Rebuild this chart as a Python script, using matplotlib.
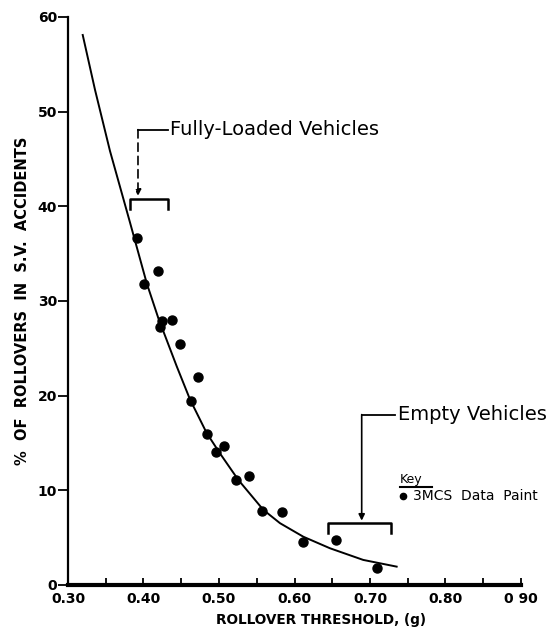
import matplotlib
matplotlib.use("Agg")
import matplotlib.pyplot as plt

# BMCS data points (rollover threshold g, % rollovers in single-vehicle accidents)
pts_x = [0.392, 0.401, 0.419, 0.422, 0.425, 0.438, 0.448, 0.4625, 0.472, 0.4845,
         0.496, 0.507, 0.523, 0.540, 0.557, 0.584, 0.611, 0.655, 0.709]
pts_y = [36.7, 31.8, 33.2, 27.3, 27.9, 28.0, 25.5, 19.4, 22.0, 15.9,
         14.1, 14.7, 11.1, 11.5, 7.8, 7.7, 4.5, 4.8, 1.8]

# fitted curve
curve_x = [0.3195, 0.3358, 0.3556, 0.3821, 0.4042, 0.4196, 0.444, 0.4616, 0.4837,
           0.5013, 0.5256, 0.5587, 0.5808, 0.6117, 0.647, 0.691, 0.7353]
curve_y = [58.1, 52.3, 45.85, 38.3, 31.9, 28.2, 23.1, 19.6, 16.05,
           13.9, 11.1, 7.94, 6.53, 5.1, 3.88, 2.65, 1.94]

x_ticks = [0.30, 0.40, 0.50, 0.60, 0.70, 0.80, 0.90]
x_ticklabels = ["0.30", "0.40", "0.50", "0.60", "0.70", "0.80", "0 90"]
y_ticks = [0, 10, 20, 30, 40, 50, 60]

fig = plt.figure(figsize=(5.51, 6.39), dpi=100)
ax = fig.add_axes([68/551, 1-585/639, 453/551, 568/639])

ax.plot(curve_x, curve_y, color="black", lw=1.4, zorder=2, solid_joinstyle="round")
ax.plot(pts_x, pts_y, "o", color="black", ms=6.5, zorder=3)

ax.set_xlim(0.30, 0.90)
ax.set_ylim(0, 60)
ax.spines["top"].set_visible(False)
ax.spines["right"].set_visible(False)
ax.spines["left"].set_linewidth(1.6)
ax.spines["bottom"].set_linewidth(3)

ax.set_xticks(x_ticks)
ax.set_xticklabels(x_ticklabels)
ax.set_xticks([0.35, 0.45, 0.55, 0.65, 0.75, 0.85], minor=True)
ax.tick_params(axis="x", which="both", direction="in", length=5, width=1.3, pad=5)
ax.set_yticks(y_ticks)
ax.tick_params(axis="y", direction="out", length=7, width=1.3, pad=1)
for lab in ax.get_xticklabels() + ax.get_yticklabels():
    lab.set_fontsize(10)
    lab.set_fontweight("bold")

ax.text(-0.1015, 0.5, "%  OF  ROLLOVERS  IN  S.V.  ACCIDENTS", transform=ax.transAxes,
        rotation=90, fontsize=10.5, fontweight="bold", ha="center", va="center")
ax.text(0.635, -3.7, "ROLLOVER THRESHOLD, (g)", fontsize=9.8, fontweight="bold",
        ha="center", va="center")

# Fully-loaded annotation
ax.plot([0.3927, 0.4325], [48.1, 48.1], color="black", lw=1.3)
ax.annotate("", xy=(0.3927, 41.1), xytext=(0.3927, 48.1),
            arrowprops=dict(arrowstyle="-|>", color="black", lw=1.2, ls=(0, (5, 3)),
                            mutation_scale=9, shrinkA=0, shrinkB=0))
ax.plot([0.382, 0.382, 0.4325, 0.4325], [39.7, 40.8, 40.8, 39.7], color="black", lw=1.8)
ax.text(0.4355, 48.1, "Fully-Loaded Vehicles", fontsize=14, va="center", ha="left")

# Empty vehicles annotation
ax.plot([0.689, 0.7335], [18.0, 18.0], color="black", lw=1.3)
ax.annotate("", xy=(0.689, 6.8), xytext=(0.689, 18.0),
            arrowprops=dict(arrowstyle="-|>", color="black", lw=1.2,
                            mutation_scale=9, shrinkA=0, shrinkB=0))
ax.plot([0.6448, 0.6448, 0.7274, 0.7274], [5.5, 6.6, 6.6, 5.5], color="black", lw=1.8,
        clip_on=False)
ax.text(0.7375, 18.0, "Empty Vehicles", fontsize=14, va="center", ha="left")

# Key
ax.text(0.7397, 10.5, "Key", fontsize=9, va="bottom", ha="left")
ax.plot([0.7397, 0.782], [10.35, 10.35], color="black", lw=1.5, clip_on=False)
ax.plot([0.744], [9.4], "o", color="black", ms=4.5, clip_on=False)
ax.text(0.757, 9.4, "3MCS  Data  Paint", fontsize=10, va="center", ha="left")

fig.savefig("out.png", dpi=100)
